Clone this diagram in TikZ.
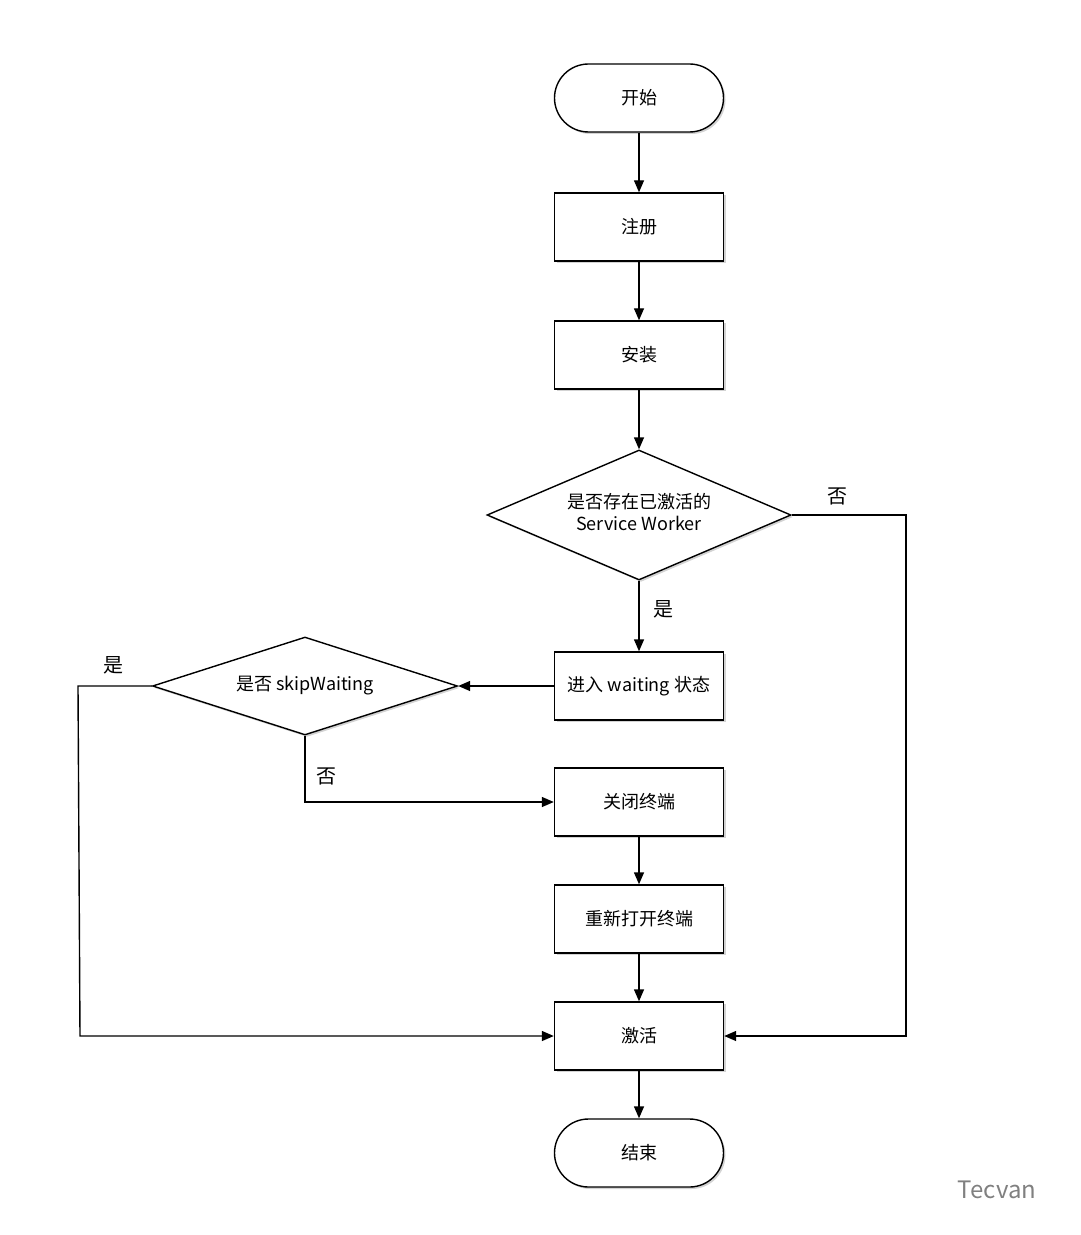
\documentclass[tikz,border=0pt]{standalone}
\usepackage{fontspec}
\setmainfont{Noto Sans CJK SC}
\usetikzlibrary{shapes.geometric,arrows.meta,shadows}
\begin{document}
\begin{tikzpicture}[x=0.5pt,y=-0.5pt,
  base/.style={draw=black,line width=0.7pt,fill=white,font=\fontsize{9}{11}\selectfont,
    drop shadow={shadow xshift=1pt,shadow yshift=-1pt,opacity=0.35}},
  box/.style={base,rectangle,minimum width=84.5pt,minimum height=34pt},
  term/.style={base,rectangle,rounded corners=17pt,minimum width=84.5pt,minimum height=34pt},
  dia/.style={base,diamond,aspect=2.34,inner sep=0pt,minimum width=152pt,minimum height=65pt},
  arr/.style={draw=black,line width=0.7pt,-{Triangle[length=6pt,width=5pt]}},
  lab/.style={font=\fontsize{10}{12}\selectfont}]
\useasboundingbox (0,0) rectangle (1080,1235);
\node[term] (s) at (639,98) {开始};
\node[box] (reg) at (639,227) {注册};
\node[box] (ins) at (639,355) {安装};
\node[dia] (d1) at (639,515) {\begin{tabular}{@{}c@{}}是否存在已激活的\\Service Worker\end{tabular}};
\node[box] (wait) at (639,686) {进入 waiting 状态};
\node[dia,aspect=3.1,minimum width=152.5pt,minimum height=49pt] (d2) at (305,686) {是否 skipWaiting};
\node[box] (close) at (639,802) {关闭终端};
\node[box] (reopen) at (639,919) {重新打开终端};
\node[box] (act) at (639,1036) {激活};
\node[term] (e) at (639,1153) {结束};
\coordinate (c1) at (906,515);
\coordinate (c2) at (906,1036);
\coordinate (c3) at (78,686);
\coordinate (c4) at (80,1036);
\coordinate (c5) at (305,802);
\draw[arr] (s) -- (reg);
\draw[arr] (reg) -- (ins);
\draw[arr] (ins) -- (d1);
\draw[arr] (d1) -- (wait);
\draw[arr] (wait) -- (d2);
\draw[arr] (close) -- (reopen);
\draw[arr] (reopen) -- (act);
\draw[arr] (act) -- (e);
\draw[arr] (d1.east) -- (c1) -- (c2) -- (act.east);
\draw[arr] (d2.west) -- (c3) -- (c4) -- (act.west);
\draw[arr] (d2.south) -- (c5) -- (close.west);
\node[lab] (l1) at (837,496) {否};
\node[lab] (l2) at (663,609) {是};
\node[lab] (l3) at (113,665) {是};
\node[lab] (l4) at (326,776) {否};
\node[font=\fontsize{12}{14}\selectfont,text=gray] (wm) at (997,1190) {Tecvan};
\end{tikzpicture}
\end{document}
